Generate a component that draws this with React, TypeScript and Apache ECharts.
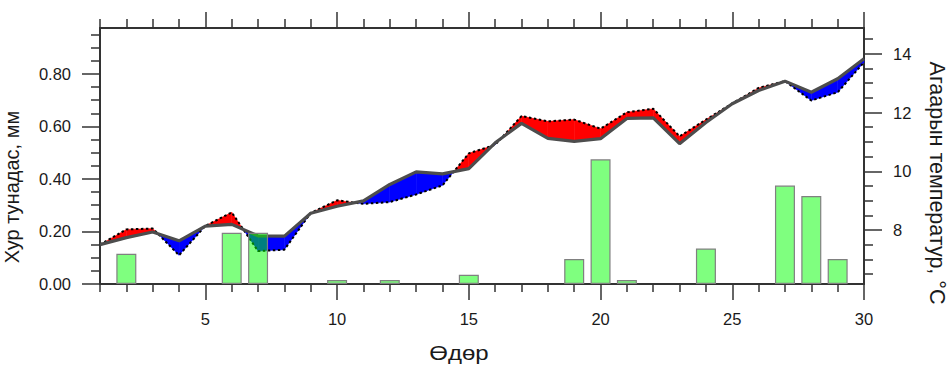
import React, { useEffect, useRef } from "react";
import * as echarts from "echarts";

// Day of month
const days = [1,2,3,4,5,6,7,8,9,10,11,12,13,14,15,16,17,18,19,20,21,22,23,24,25,26,27,28,29,30];
// Precipitation, mm (left axis)
const precip = [0,0.115,0,0,0,0.195,0.195,0,0,0.015,0,0.015,0,0,0.035,0,0,0,0.095,0.475,0.015,0,0,0.135,0,0,0.375,0.335,0.095,0];
// Air temperature, °C (right axis): solid gray line (normal) and dotted black line (observed)
const tempNormal = [7.50,7.74,7.93,7.63,8.13,8.19,7.80,7.79,8.57,8.81,8.99,9.55,9.98,9.91,10.09,10.97,11.63,11.12,11.02,11.11,11.80,11.82,10.94,11.66,12.30,12.75,13.07,12.69,13.15,13.83];
const tempActual = [7.50,8.02,8.05,7.14,8.14,8.60,7.28,7.33,8.58,9.01,8.89,8.95,9.21,9.52,10.61,10.90,11.88,11.70,11.76,11.45,12.01,12.13,11.19,11.76,12.31,12.84,13.07,12.41,12.69,13.71];

// Tick labels / tick positions
const xMajorTicks = [5,10,15,20,25,30];
const xMinorTicks = [1,2,3,4,6,7,8,9,11,12,13,14,16,17,18,19,21,22,23,24,26,27,28,29];
const precipMajorTicks = [0,0.2,0.4,0.6,0.8];
const precipMinorTicks = [0.05,0.1,0.15,0.25,0.3,0.35,0.45,0.5,0.55,0.65,0.7,0.75,0.85,0.9,0.95];
const tempMajorTicks = [8,10,12,14];
const tempMinorTicks = [6.5,7,7.5,8.5,9,9.5,10.5,11,11.5,12.5,13,13.5,14.5];

const X_MIN = 1, X_MAX = 30;
const P_MIN = 0, P_MAX = 0.975;
const T_MIN = 6.16, T_MAX = 14.88;

const FONT = "'Liberation Sans', Arial, Helvetica, sans-serif";
const AXIS_COLOR = "#333";
const TEXT_COLOR = "#1a1a1a";

export default function App() {
  const ref = useRef<HTMLDivElement>(null);

  useEffect(() => {
    if (!ref.current) return;
    const chart = echarts.init(ref.current, undefined, { renderer: "svg" });

    const barData = days
      .map((d, i) => [d, precip[i]])
      .filter((p) => (p[1] as number) > 0);
    const normalData = days.map((d, i) => [d, tempNormal[i]]);
    const actualData = days.map((d, i) => [d, tempActual[i]]);
    const segData = days.slice(0, -1).map((d, i) => [
      d, tempNormal[i], tempActual[i], tempNormal[i + 1], tempActual[i + 1],
    ]);

    const tickLine = { color: AXIS_COLOR, width: 1.5 };

    const xAxisBase = (pos: string, ticks: number[], len: number, showLine: boolean, labels: boolean) => ({
      type: "value",
      position: pos,
      min: X_MIN,
      max: X_MAX,
      axisLine: { show: showLine, onZero: false, lineStyle: { color: AXIS_COLOR, width: 2 } },
      axisTick: { show: true, inside: false, length: len, customValues: ticks, lineStyle: tickLine },
      axisLabel: labels
        ? { show: true, customValues: ticks, margin: 26, fontSize: 16.5, fontFamily: FONT, color: TEXT_COLOR }
        : { show: false },
      splitLine: { show: false },
    });

    const yAxisBase = (
      pos: string, min: number, max: number, ticks: number[], len: number,
      showLine: boolean, labels: boolean, fmt?: (v: number) => string
    ) => ({
      type: "value",
      position: pos,
      min,
      max,
      axisLine: { show: showLine, onZero: false, lineStyle: { color: AXIS_COLOR, width: 2 } },
      axisTick: { show: true, inside: false, length: len, customValues: ticks, lineStyle: tickLine },
      axisLabel: labels
        ? {
            show: true, customValues: ticks, margin: 29, fontSize: 16.5, fontFamily: FONT, color: TEXT_COLOR,
            formatter: fmt,
          }
        : { show: false },
      splitLine: { show: false },
    });

    chart.setOption({
      animation: false,
      backgroundColor: "#fff",
      grid: { left: 100, right: 86, top: 28, bottom: 82, containLabel: false },
      xAxis: [
        xAxisBase("bottom", xMajorTicks, 16, true, true),
        xAxisBase("top", xMajorTicks, 16, true, false),
        xAxisBase("bottom", xMinorTicks, 8, false, false),
        xAxisBase("top", xMinorTicks, 9, false, false),
      ],
      yAxis: [
        yAxisBase("left", P_MIN, P_MAX, precipMajorTicks, 18, true, true, (v: number) => v.toFixed(2)),
        yAxisBase("right", T_MIN, T_MAX, tempMajorTicks, 18, true, true, (v: number) => String(v)),
        yAxisBase("left", P_MIN, P_MAX, precipMinorTicks, 9, false, false),
        yAxisBase("right", T_MIN, T_MAX, tempMinorTicks, 9, false, false),
      ],
      graphic: [
        {
          type: "text",
          x: 12,
          y: 187,
          rotation: Math.PI / 2,
          style: {
            text: "Хур тунадас, мм",
            font: `20px ${FONT}`,
            fill: TEXT_COLOR,
            align: "center",
            verticalAlign: "middle",
          },
        },
        {
          type: "text",
          x: 937,
          y: 183,
          rotation: -Math.PI / 2,
          style: {
            text: "Агаарын температур, °С",
            font: `21.5px ${FONT}`,
            fill: TEXT_COLOR,
            align: "center",
            verticalAlign: "middle",
          },
        },
        {
          type: "text",
          x: 459,
          y: 353,
          scaleX: 1.2,
          style: {
            text: "Өдөр",
            font: `20px ${FONT}`,
            fill: TEXT_COLOR,
            align: "center",
            verticalAlign: "middle",
          },
        },
      ],
      series: [
        {
          type: "custom",
          xAxisIndex: 0,
          yAxisIndex: 1,
          z: 2,
          silent: true,
          encode: { x: 0, y: [1, 2] },
          data: segData,
          renderItem: (params: any, api: any) => {
            const d0 = api.value(0) as number;
            const g0 = api.value(1) as number;
            const t0 = api.value(2) as number;
            const g1 = api.value(3) as number;
            const t1 = api.value(4) as number;
            const d1 = d0 + 1;
            const a = t0 - g0;
            const b = t1 - g1;
            const RED = "#ff0000";
            const BLUE = "#0000ff";
            const poly = (pts: number[][], fill: string) => ({
              type: "polygon",
              shape: { points: pts.map((p) => api.coord(p)) },
              style: { fill, stroke: fill, lineWidth: 0.5 },
            });
            const children: any[] = [];
            if (a * b >= 0) {
              if (a !== 0 || b !== 0) {
                children.push(poly([[d0, t0], [d1, t1], [d1, g1], [d0, g0]], a + b > 0 ? RED : BLUE));
              }
            } else {
              const t = a / (a - b);
              const xc = d0 + t;
              const yc = g0 + t * (g1 - g0);
              children.push(poly([[d0, t0], [xc, yc], [d0, g0]], a > 0 ? RED : BLUE));
              children.push(poly([[xc, yc], [d1, t1], [d1, g1]], b > 0 ? RED : BLUE));
            }
            return { type: "group", children };
          },
        },
        {
          type: "line",
          xAxisIndex: 0,
          yAxisIndex: 1,
          z: 3,
          data: actualData,
          symbol: "none",
          silent: true,
          lineStyle: { color: "#000", width: 2, type: [2.5, 2.5] },
        },
        {
          type: "line",
          xAxisIndex: 0,
          yAxisIndex: 1,
          z: 4,
          data: normalData,
          symbol: "none",
          silent: true,
          lineStyle: { color: "#4d4d4d", width: 3.2 },
        },
        {
          type: "bar",
          xAxisIndex: 0,
          yAxisIndex: 0,
          z: 5,
          data: barData,
          barWidth: 20,
          silent: true,
          itemStyle: { color: "rgba(0,255,0,0.5)", borderColor: "#808080", borderWidth: 1.2 },
        },
      ],
    });

    return () => chart.dispose();
  }, []);

  return (
    <div
      ref={ref}
      style={{ position: "fixed", left: 0, top: 0, width: 950, height: 366, background: "#fff" }}
    />
  );
}
